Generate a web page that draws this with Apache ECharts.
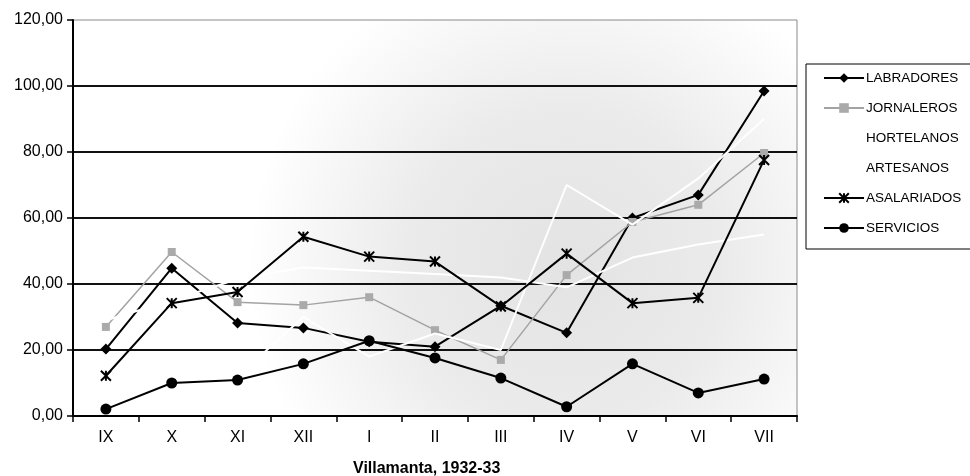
<!DOCTYPE html>
<html>
<head>
<meta charset="utf-8">
<script src="https://cdn.jsdelivr.net/npm/echarts@6/dist/echarts.min.js"></script>
<style>
html,body{margin:0;padding:0;background:#fff;}
#c{width:970px;height:476px;}
</style>
</head>
<body>
<div id="c"></div>
<script>
var categories = ['IX','X','XI','XII','I','II','III','IV','V','VI','VII'];
var LABRADORES  = [20.3, 44.8, 28.2, 26.7, 22.5, 21.0, 33.4, 25.2, 60.0, 67.0, 98.5];
var JORNALEROS  = [27.0, 49.7, 34.5, 33.6, 36.0, 26.0, 17.0, 42.7, 58.8, 64.0, 79.7];
var HORTELANOS  = [10.0, 14.0, 12.0, 30.0, 18.0, 25.0, 20.0, 70.0, 58.0, 72.0, 90.0];
var ARTESANOS   = [29.0, 35.0, 41.5, 45.0, 44.0, 43.0, 42.0, 39.0, 48.0, 52.0, 55.0];
var ASALARIADOS = [12.2, 34.2, 37.6, 54.3, 48.3, 46.8, 33.2, 49.2, 34.2, 35.8, 77.6];
var SERVICIOS   = [2.1, 10.0, 10.9, 15.8, 22.8, 17.6, 11.5, 2.8, 15.8, 7.0, 11.2];
var yTicks = {min: 0, max: 120, interval: 20};
var xTitle = 'Villamanta, 1932-33';

var FONT = 'Arial, "Liberation Sans", sans-serif';
var starPath = 'path://M0,0 L10,10 M10,0 L0,10 M5,0 L5,10';

var chart = echarts.init(document.getElementById('c'), null, {renderer: 'canvas'});
chart.setOption({
  animation: false,
  backgroundColor: '#ffffff',
  title: {
    text: xTitle,
    left: 348, top: 456,
    textStyle: {fontFamily: FONT, fontSize: 16, fontWeight: 'bold', color: '#000'}
  },
  legend: {
    orient: 'vertical',
    left: 806, top: 64,
    padding: [7, 20, 14, 17],
    itemWidth: 40, itemHeight: 12, itemGap: 16,
    borderColor: '#000', borderWidth: 1,
    backgroundColor: '#fff',
    textStyle: {fontFamily: FONT, fontSize: 13.5, color: '#000', padding: [0,0,0,-3]},
    data: ['LABRADORES','JORNALEROS','HORTELANOS','ARTESANOS','ASALARIADOS','SERVICIOS']
  },
  grid: {
    left: 73, right: 173, top: 20, bottom: 60,
    show: true,
    borderColor: '#8a8a8a', borderWidth: 1,
    backgroundColor: {
      type: 'radial', x: 0.68, y: 0.62, r: 0.8,
      colorStops: [
        {offset: 0, color: '#e3e3e3'},
        {offset: 0.5, color: '#ebebeb'},
        {offset: 1, color: '#ffffff'}
      ]
    }
  },
  xAxis: {
    type: 'category',
    data: categories,
    boundaryGap: true,
    axisLine: {lineStyle: {color: '#000', width: 2}},
    axisTick: {show: true, length: 6, lineStyle: {color: '#000', width: 1.5}},
    axisLabel: {fontFamily: FONT, fontSize: 16, color: '#000', margin: 14},
    splitLine: {show: false}
  },
  yAxis: {
    type: 'value',
    min: yTicks.min, max: yTicks.max, interval: yTicks.interval,
    axisLine: {show: true, lineStyle: {color: '#000', width: 2}},
    axisTick: {show: true, length: 6, lineStyle: {color: '#000', width: 1.5}},
    axisLabel: {
      fontFamily: FONT, fontSize: 16, color: '#000', margin: 10,
      formatter: function (v) { return v.toFixed(2).replace('.', ','); }
    },
    splitLine: {show: true, lineStyle: {color: ['#111','#111','#111','#111','#111','#111','transparent'], width: 2}}
  },
  series: [
    {name: 'LABRADORES', type: 'line', data: LABRADORES, z: 2,
     symbol: 'diamond', symbolSize: 11,
     lineStyle: {color: '#000', width: 2}, itemStyle: {color: '#000'}},
    {name: 'JORNALEROS', type: 'line', data: JORNALEROS, z: 3,
     symbol: 'rect', symbolSize: 8,
     lineStyle: {color: '#a3a3a3', width: 1.5}, itemStyle: {color: '#aaaaaa'}},
    {name: 'HORTELANOS', type: 'line', data: HORTELANOS, z: 4,
     symbol: 'none', lineStyle: {color: '#ffffff', width: 2}, itemStyle: {color: '#ffffff'}},
    {name: 'ARTESANOS', type: 'line', data: ARTESANOS, z: 5,
     symbol: 'none', lineStyle: {color: '#ffffff', width: 2}, itemStyle: {color: '#ffffff'}},
    {name: 'ASALARIADOS', type: 'line', data: ASALARIADOS, z: 6,
     symbol: starPath, symbolSize: 10,
     lineStyle: {color: '#000', width: 2},
     itemStyle: {color: '#000', borderColor: '#000', borderWidth: 2}},
    {name: 'SERVICIOS', type: 'line', data: SERVICIOS, z: 7,
     symbol: 'circle', symbolSize: 11,
     lineStyle: {color: '#000', width: 2}, itemStyle: {color: '#000'}}
  ]
});
</script>
</body>
</html>
